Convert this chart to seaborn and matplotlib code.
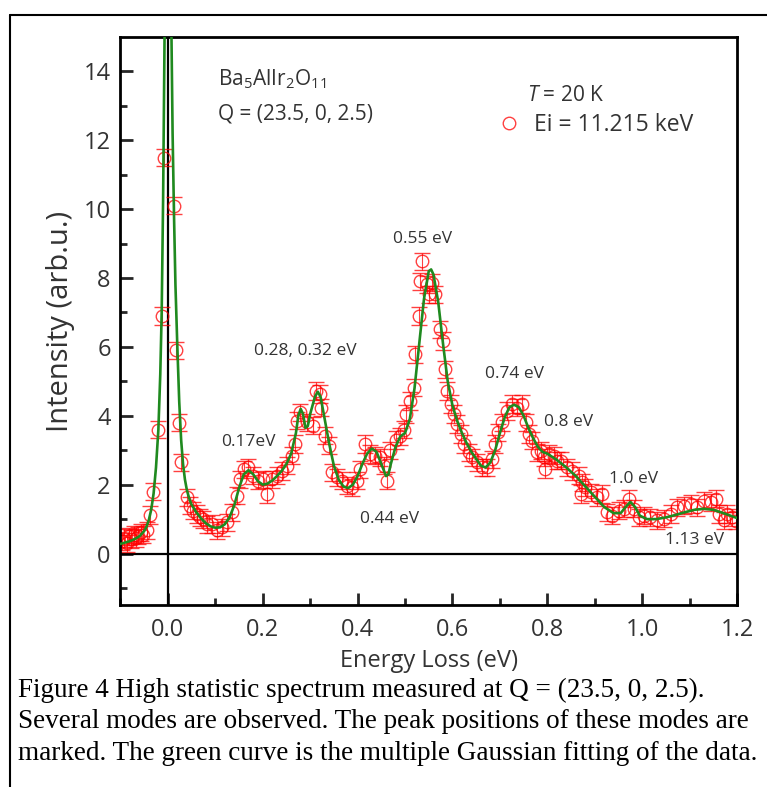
import numpy as np
import pandas as pd
import matplotlib
matplotlib.use("Agg")
import matplotlib.pyplot as plt
from matplotlib.lines import Line2D
import seaborn as sns

# measured points (energy loss in eV, intensity)
energy = [-0.097, -0.092, -0.087, -0.082, -0.077, -0.072, -0.067, -0.062, -0.057, -0.052,
          -0.044, -0.037, -0.031, -0.020, -0.013, -0.008, 0.013, 0.018, 0.024, 0.028,
          0.041, 0.047, 0.054, 0.061, 0.068, 0.075, 0.082, 0.093, 0.103, 0.114,
          0.124, 0.135, 0.146, 0.153, 0.160, 0.170, 0.180, 0.191, 0.200, 0.209,
          0.219, 0.230, 0.240, 0.251, 0.262, 0.269, 0.272, 0.279, 0.293, 0.307,
          0.313, 0.321, 0.323, 0.332, 0.339, 0.346, 0.357, 0.367, 0.378, 0.388,
          0.399, 0.406, 0.416, 0.427, 0.437, 0.448, 0.455, 0.461, 0.469, 0.480,
          0.490, 0.497, 0.503, 0.511, 0.518, 0.522, 0.529, 0.531, 0.536, 0.546,
          0.550, 0.557, 0.564, 0.574, 0.581, 0.585, 0.589, 0.596, 0.603, 0.610,
          0.617, 0.624, 0.634, 0.641, 0.652, 0.662, 0.673, 0.684, 0.690, 0.697,
          0.705, 0.715, 0.726, 0.736, 0.747, 0.754, 0.761, 0.768, 0.778, 0.786,
          0.792, 0.796, 0.803, 0.813, 0.821, 0.828, 0.841, 0.852, 0.866, 0.870,
          0.873, 0.880, 0.891, 0.905, 0.916, 0.926, 0.937, 0.951, 0.961, 0.972,
          0.982, 0.993, 1.003, 1.017, 1.032, 1.046, 1.060, 1.074, 1.088, 1.102,
          1.116, 1.130, 1.144, 1.155, 1.162, 1.172, 1.179, 1.190, 1.197]
intensity = [0.35, 0.45, 0.30, 0.50, 0.42, 0.55, 0.45, 0.52, 0.62, 0.55,
             0.67, 1.12, 1.80, 3.60, 6.90, 11.50, 10.10, 5.90, 3.80, 2.65,
             1.63, 1.39, 1.25, 1.15, 1.05, 1.00, 0.85, 0.86, 0.67, 0.76,
             0.91, 1.20, 1.68, 2.16, 2.45, 2.50, 2.26, 2.12, 2.16, 1.73,
             2.16, 2.26, 2.40, 2.55, 2.84, 3.18, 3.86, 4.10, 3.81, 3.71,
             4.72, 4.63, 4.24, 3.42, 3.13, 2.36, 2.21, 2.12, 1.97, 1.92,
             2.12, 2.45, 3.18, 2.89, 2.84, 2.79, 2.55, 2.12, 3.00, 3.30,
             3.40, 3.60, 4.05, 4.43, 4.82, 5.79, 6.90, 7.91, 8.49, 7.82,
             7.53, 7.86, 7.53, 6.51, 6.17, 5.35, 4.72, 4.34, 4.05, 3.76,
             3.47, 3.18, 2.94, 2.79, 2.65, 2.50, 2.50, 2.74, 3.18, 3.52,
             3.81, 4.14, 4.34, 4.24, 4.34, 3.81, 3.47, 3.28, 2.94, 2.99,
             2.79, 2.45, 2.89, 2.84, 2.70, 2.70, 2.50, 2.40, 2.26, 1.73,
             2.07, 1.92, 1.78, 1.63, 1.73, 1.20, 1.10, 1.25, 1.30, 1.59,
             1.30, 1.05, 1.10, 1.05, 0.96, 1.01, 1.15, 1.34, 1.39, 1.44,
             1.34, 1.54, 1.49, 1.59, 1.15, 0.96, 1.15, 1.05, 0.95]
err = 0.25

# multiple Gaussian fit curve
fit_x = [-0.10, -0.09, -0.08, -0.07, -0.06, -0.05, -0.045, -0.04, -0.035, -0.03,
         -0.025, -0.02, -0.016, -0.013, -0.010, -0.008, -0.006, -0.003, 0.0, 0.003,
         0.006, 0.008, 0.010, 0.013, 0.016, 0.02, 0.024, 0.028, 0.032, 0.036,
         0.04, 0.045, 0.05, 0.06, 0.07, 0.08, 0.09, 0.10, 0.11, 0.12,
         0.13, 0.14, 0.15, 0.16, 0.17, 0.18, 0.19, 0.20, 0.21, 0.22,
         0.23, 0.24, 0.25, 0.26, 0.27, 0.275, 0.28, 0.285, 0.29, 0.295,
         0.30, 0.31, 0.316, 0.322, 0.33, 0.34, 0.35, 0.36, 0.37, 0.38,
         0.39, 0.40, 0.41, 0.42, 0.43, 0.44, 0.45, 0.46, 0.465, 0.47,
         0.48, 0.49, 0.50, 0.51, 0.52, 0.53, 0.54, 0.55, 0.555, 0.56,
         0.57, 0.58, 0.59, 0.60, 0.61, 0.62, 0.63, 0.64, 0.65, 0.66,
         0.67, 0.68, 0.69, 0.70, 0.71, 0.72, 0.73, 0.74, 0.75, 0.76,
         0.77, 0.78, 0.79, 0.80, 0.82, 0.84, 0.86, 0.88, 0.90, 0.92,
         0.94, 0.955, 0.965, 0.975, 0.985, 0.995, 1.01, 1.03, 1.05, 1.07,
         1.09, 1.11, 1.13, 1.15, 1.17, 1.19, 1.20]
fit_y = [0.28, 0.32, 0.36, 0.42, 0.50, 0.65, 0.78, 0.98, 1.28, 1.75,
         2.5, 3.6, 5.2, 7.0, 10.3, 13.5, 16.5, 20.0, 21.0, 20.0,
         17.0, 14.5, 12.2, 9.8, 7.8, 6.0, 4.4, 3.3, 2.6, 2.15,
         1.85, 1.6, 1.42, 1.2, 1.02, 0.88, 0.79, 0.75, 0.76, 0.85,
         1.05, 1.4, 1.9, 2.3, 2.42, 2.3, 2.1, 2.0, 2.03, 2.12,
         2.25, 2.4, 2.6, 2.9, 3.5, 4.0, 4.2, 4.05, 3.65, 3.7,
         4.05, 4.55, 4.7, 4.55, 3.95, 3.2, 2.55, 2.15, 1.95, 1.9,
         2.0, 2.25, 2.6, 2.9, 3.05, 2.95, 2.6, 2.25, 2.3, 2.6,
         3.1, 3.4, 3.5, 3.9, 4.8, 6.1, 7.4, 8.2, 8.25, 8.1,
         7.3, 6.1, 5.0, 4.3, 3.85, 3.5, 3.2, 2.95, 2.75, 2.55,
         2.5, 2.65, 3.0, 3.5, 3.95, 4.25, 4.32, 4.25, 4.0, 3.65,
         3.35, 3.1, 2.95, 2.9, 2.72, 2.5, 2.25, 1.95, 1.65, 1.35,
         1.17, 1.18, 1.35, 1.5, 1.35, 1.1, 1.0, 1.0, 1.05, 1.12,
         1.2, 1.27, 1.3, 1.27, 1.18, 1.08, 1.03]

peak_labels = ["0.55 eV", "0.28, 0.32 eV", "0.74 eV", "0.17eV", "0.8 eV",
               "0.44 eV", "1.0 eV", "1.13 eV"]
peak_x = [0.538, 0.289, 0.730, 0.169, 0.844, 0.468, 0.981, 1.110]
peak_y = [9.13, 5.88, 5.20, 3.25, 3.83, 1.00, 2.17, 0.40]

sns.set_style("ticks")
plt.rcParams["font.family"] = ["Open Sans", "DejaVu Sans"]
plt.rcParams["mathtext.fontset"] = "custom"
plt.rcParams["mathtext.rm"] = "Open Sans"
plt.rcParams["mathtext.it"] = "Open Sans:italic"
plt.rcParams["mathtext.default"] = "regular"

fig = plt.figure(figsize=(7.67, 7.87), dpi=100)
ax = fig.add_axes([0.157, 0.231, 0.804, 0.722])

ax.axhline(0, color="black", lw=1.6, zorder=1)
ax.axvline(0, color="black", lw=1.6, zorder=1)

ax.errorbar(energy, intensity, yerr=err, fmt="o", mfc="none", mec="red", ms=9,
            mew=1.0, ecolor="red", elinewidth=0.8, capsize=6, capthick=0.8,
            alpha=0.75, zorder=2)

fit = pd.DataFrame({"x": fit_x, "y": fit_y})
sns.lineplot(data=fit, x="x", y="y", sort=False, estimator=None,
             color="#1f8a1f", lw=1.9, ax=ax, zorder=3)

ax.set_xlim(-0.1, 1.2)
ax.set_ylim(-1.5, 15)
ax.set_xticks(np.arange(0, 1.21, 0.2))
ax.set_xticks(np.arange(-0.1, 1.21, 0.1), minor=True)
ax.set_xticklabels(["0.0", "0.2", "0.4", "0.6", "0.8", "1.0", "1.2"])
ax.set_yticks(np.arange(0, 15, 2))
ax.set_yticks(np.arange(-1, 15, 1), minor=True)
ax.tick_params(which="both", direction="in", width=2, labelsize=17,
               labelcolor="#333333", top=False, right=False)
ax.tick_params(which="major", length=9, pad=7)
ax.tick_params(axis="x", which="major", pad=9)
ax.tick_params(which="minor", length=5)
for s in ax.spines.values():
    s.set_linewidth(2)
    s.set_color("black")
    s.set_visible(True)

ax.set_xlabel("Energy Loss (eV)", fontsize=17, color="#333333", labelpad=5)
ax.set_ylabel("Intensity (arb.u.)", fontsize=21, color="#333333", labelpad=6)

for lab, px, py in zip(peak_labels, peak_x, peak_y):
    ax.text(px, py, lab, ha="center", va="center", fontsize=12.5, color="#333333")

ax.text(0.105, 13.77, "Ba$_5$AlIr$_2$O$_{11}$", fontsize=15, color="#333333",
        va="center", ha="left")
ax.text(0.105, 12.75, "Q = (23.5, 0, 2.5)", fontsize=15, color="#333333",
        va="center", ha="left")
ax.text(0.757, 13.3, r"$\mathit{T}$ = 20 K", fontsize=15, color="#333333",
        va="center", ha="left")
ax.plot([], [], "o", mfc="none", mec="red", ms=9, mew=1.0, alpha=0.75,
        label="Ei = 11.215 keV")
leg = ax.legend(loc="center left", bbox_to_anchor=(0.574, 0.845), frameon=False,
                fontsize=16.5, handletextpad=0.5, handlelength=1.2)
for t in leg.get_texts():
    t.set_color("#333333")

caption = ["Figure 4 High statistic spectrum measured at Q = (23.5, 0, 2.5).",
           "Several modes are observed. The peak positions of these modes are",
           "marked. The green curve is the multiple Gaussian fitting of the data."]
for i, line in enumerate(caption):
    fig.text(18 / 767, 1 - (690 + 32 * i) / 787, line, family="Liberation Serif",
             fontsize=19.5, va="center", ha="left", color="black")

fig.add_artist(Line2D([10 / 767, 1], [1 - 15 / 787, 1 - 15 / 787],
                      transform=fig.transFigure, color="black", lw=1.5))
fig.add_artist(Line2D([10 / 767, 10 / 767], [0, 1 - 15 / 787],
                      transform=fig.transFigure, color="black", lw=1.5))

fig.savefig("out.png", dpi=100)
